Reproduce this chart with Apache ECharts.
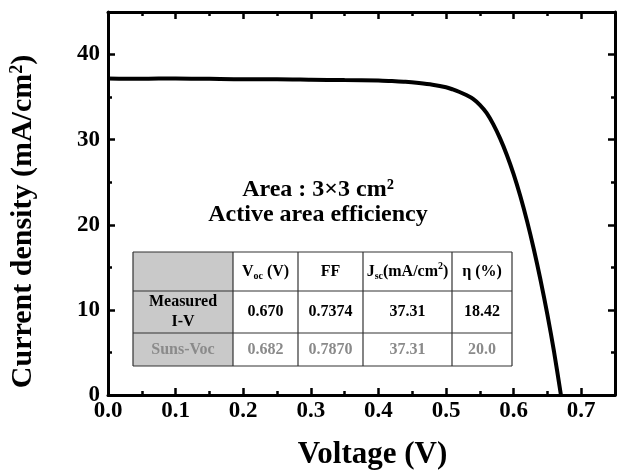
<!DOCTYPE html>
<html><head><meta charset="utf-8">
<script src="https://cdn.jsdelivr.net/npm/echarts@6/dist/echarts.min.js"></script>
<style>html,body{margin:0;padding:0;background:#fff}#c{width:623px;height:470px}</style>
</head><body><div id="c"></div>
<script>
// ---- data ----
const voltage = [0, 0.05, 0.10, 0.15, 0.20, 0.25, 0.30, 0.35, 0.40, 0.42, 0.44, 0.46, 0.48, 0.50, 0.51, 0.52, 0.53, 0.54, 0.55, 0.56, 0.57, 0.58, 0.59, 0.60, 0.61, 0.62, 0.63, 0.64, 0.65, 0.66, 0.67];
const current = [37.2, 37.15, 37.2, 37.15, 37.1, 37.1, 37.05, 37.0, 36.95, 36.88, 36.8, 36.65, 36.45, 36.15, 35.9, 35.6, 35.25, 34.8, 34.1, 33.15, 31.8, 30.15, 28.2, 25.95, 23.35, 20.4, 17.1, 13.45, 9.45, 5.0, 0];
const tableHeader = ['', 'V{sub|oc} (V)', 'FF', 'J{sub|sc}(mA/cm{sup|2})', 'η (%)'];
const rowLabels = ['Measured\nI-V', 'Suns-Voc'];
const measuredRow = ['0.670', '0.7374', '37.31', '18.42'];
const sunsRow = ['0.682', '0.7870', '37.31', '20.0'];
const annotationLines = ['Area : 3×3 cm²', 'Active area efficiency'];
const xAxisTitle = 'Voltage (V)';
const yAxisTitle = 'Current density (mA/cm{sup|2})';

// ---- drawing ----
const FONT = '"Liberation Serif", "Times New Roman", Times, serif';
const chart = echarts.init(document.getElementById('c'), null, {renderer: 'canvas'});
const points = voltage.map((v, i) => [v, current[i]]);

function axisCommon(extra) {
  return Object.assign({
    type: 'value',
    splitLine: {show: false},
    axisLine: {show: false, onZero: false},
    axisLabel: {show: false},
    axisTick: {show: true, inside: true, length: 4, lineStyle: {color: '#000', width: 2.5}}
  }, extra);
}
const majorTick = {show: true, inside: true, length: 7, lineStyle: {color: '#000', width: 2.5}};
const boxLine = {show: true, onZero: false, lineStyle: {color: '#000', width: 3}};
const tickLabel = {show: true, fontFamily: FONT, fontWeight: 'bold', fontSize: 23, color: '#000', showMaxLabel: false};

const xRange = {min: 0, max: 0.75};
const yRange = {min: 0, max: 45};

const xAxes = [
  axisCommon(Object.assign({position: 'bottom', interval: 0.1, axisLine: boxLine, axisTick: majorTick,
    axisLabel: Object.assign({}, tickLabel, {margin: 5, formatter: v => v.toFixed(1)}),
    name: xAxisTitle, nameLocation: 'middle', nameGap: 44,
    nameTextStyle: {fontFamily: FONT, fontWeight: 'bold', fontSize: 31, color: '#000', padding: [0, 0, 0, 22]}}, xRange)),
  axisCommon(Object.assign({position: 'bottom', interval: 0.05}, xRange)),
  axisCommon(Object.assign({position: 'top', interval: 0.1, axisLine: boxLine, axisTick: majorTick}, xRange)),
  axisCommon(Object.assign({position: 'top', interval: 0.05}, xRange))
];
const yAxes = [
  axisCommon(Object.assign({position: 'left', interval: 10, axisLine: boxLine, axisTick: majorTick,
    axisLabel: Object.assign({}, tickLabel, {margin: 8}),
    name: yAxisTitle, nameLocation: 'middle', nameRotate: 90, nameGap: 70,
    nameTextStyle: {fontFamily: FONT, fontWeight: 'bold', fontSize: 30, color: '#000', padding: [0, 36, 0, 0],
      rich: {sup: {fontFamily: FONT, fontWeight: 'bold', fontSize: 18, color: '#000', verticalAlign: 'top', lineHeight: 18}}}}, yRange)),
  axisCommon(Object.assign({position: 'left', interval: 5}, yRange)),
  axisCommon(Object.assign({position: 'right', interval: 10, axisLine: boxLine, axisTick: majorTick}, yRange)),
  axisCommon(Object.assign({position: 'right', interval: 5}, yRange))
];

// table annotation graphic
const colX = [133, 233, 298, 363, 452, 512];
const rowY = [252, 291, 333, 366];
const cellFont = {fontFamily: FONT, fontWeight: 'bold', fontSize: 16};
const richCell = {
  sub: {fontFamily: FONT, fontWeight: 'bold', fontSize: 10, verticalAlign: 'bottom', lineHeight: 8},
  sup: {fontFamily: FONT, fontWeight: 'bold', fontSize: 10, verticalAlign: 'top', lineHeight: 8}
};
const graphics = [];
graphics.push({type: 'rect', z: 10, shape: {x: colX[0], y: rowY[0], width: colX[1] - colX[0], height: rowY[3] - rowY[0]},
  style: {fill: '#c9c9c9'}});
graphics.push({type: 'rect', z: 10, shape: {x: colX[1], y: rowY[0], width: colX[5] - colX[1], height: rowY[3] - rowY[0]},
  style: {fill: '#fff'}});
rowY.forEach(y => graphics.push({type: 'line', z: 11, shape: {x1: colX[0], y1: y, x2: colX[5], y2: y},
  style: {stroke: '#333', lineWidth: 1.2}}));
colX.forEach(x => graphics.push({type: 'line', z: 11, shape: {x1: x, y1: rowY[0], x2: x, y2: rowY[3]},
  style: {stroke: '#333', lineWidth: 1.2}}));
function cellText(col, row, text, color) {
  const cx = (colX[col] + colX[col + 1]) / 2;
  const cy = (rowY[row] + rowY[row + 1]) / 2;
  const rich = {};
  Object.keys(richCell).forEach(k => rich[k] = Object.assign({}, richCell[k], {fill: color}));
  graphics.push({type: 'text', z: 12, x: cx, y: cy,
    style: Object.assign({text: text, fill: color, align: 'center', verticalAlign: 'middle', lineHeight: 20, rich: rich}, cellFont)});
}
tableHeader.forEach((t, i) => { if (t) cellText(i, 0, t, '#000'); });
cellText(0, 1, rowLabels[0], '#000');
cellText(0, 2, rowLabels[1], '#8a8a8a');
measuredRow.forEach((t, i) => cellText(i + 1, 1, t, '#000'));
sunsRow.forEach((t, i) => cellText(i + 1, 2, t, '#8a8a8a'));
annotationLines.forEach((t, i) => {
  graphics.push({type: 'text', z: 12, x: 318, y: 190 + i * 25,
    style: {text: t, fill: '#000', align: 'center', verticalAlign: 'middle', fontFamily: FONT, fontWeight: 'bold', fontSize: 24}});
});

chart.setOption({
  animation: false,
  backgroundColor: '#fff',
  grid: {left: 108, right: 8, top: 12, bottom: 75, containLabel: false, outerBoundsMode: 'none'},
  xAxis: xAxes,
  yAxis: yAxes,
  series: [{
    type: 'line', xAxisIndex: 0, yAxisIndex: 0, data: points,
    smooth: 0.3, showSymbol: false, symbol: 'none',
    lineStyle: {color: '#000', width: 4}, z: 5
  }],
  graphic: graphics
});
</script></body></html>
